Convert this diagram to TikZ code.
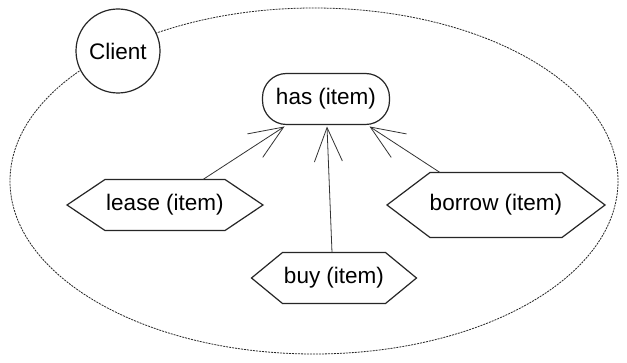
\documentclass[tikz,border=0pt]{standalone}
\usepackage{fontspec}
\setmainfont{Liberation Sans}
\usetikzlibrary{arrows.meta}
\tikzset{
  x=1pt, y=-1pt,
  every node/.style={font=\fontsize{22.5}{26}\selectfont, inner sep=0pt, outer sep=0pt},
  outline/.style={draw=black!85, line width=1.2pt},
  hexbox/.style={rectangle, minimum height=#1},
  link/.style={draw=black!80, line width=0.8pt, -{Straight Barb[length=34pt, width=28pt, line width=0.8pt]}},
  boundary/.style={draw=black!85, line width=0.8pt, dash pattern=on 2pt off 1pt}
}
\newcommand\hexshape[2]{\draw[outline] (#1.west) -- ([xshift=#2]#1.north west) -- ([xshift=-#2]#1.north east) -- (#1.east) -- ([xshift=-#2]#1.south east) -- ([xshift=#2]#1.south west) -- cycle;}
\begin{document}
\begin{tikzpicture}
\useasboundingbox[fill=white] (0,0) rectangle (627,363);
\draw[boundary] (314,181) ellipse [x radius=304, y radius=173];
\node[circle, outline, fill=white, minimum size=84pt] (client) at (118,51) {Client};
\node[rectangle, outline, rounded corners=24pt, minimum width=127pt, minimum height=51pt] (has) at (326,99) {has (item)};
\node[hexbox=51pt, minimum width=196pt] (lease) at (165,205) {lease (item)};
\node[hexbox=51pt, minimum width=165pt] (buy) at (334,278) {buy (item)};
\node[hexbox=65pt, minimum width=218pt] (borrow) at (496,205) {borrow (item)};
\hexshape{lease}{38pt}
\hexshape{buy}{31pt}
\hexshape{borrow}{43pt}
\draw[link] ([xshift=-60pt]lease.north east) -- ([xshift=22pt,yshift=-2pt]has.south west);
\draw[link] ([xshift=-2pt]buy.north) -- ([xshift=1pt,yshift=-2pt]has.south);
\draw[link] ([xshift=53pt]borrow.north west) -- ([xshift=-20pt,yshift=-2pt]has.south east);
\end{tikzpicture}
\end{document}
